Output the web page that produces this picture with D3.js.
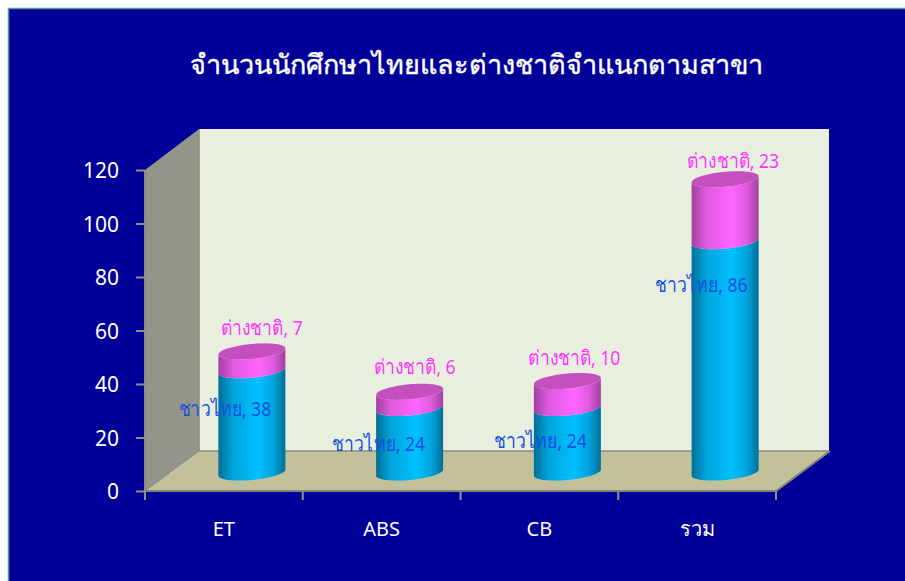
<!DOCTYPE html>
<html lang="th">
<head>
<meta charset="utf-8">
<script src="https://cdn.jsdelivr.net/npm/d3@7"></script>
<style>
  html, body { margin: 0; padding: 0; background: #fff; }
  svg { display: block; }
  text { font-family: "Noto Sans", "Open Sans", "Liberation Sans", sans-serif; }
</style>
</head>
<body>
<svg id="chart" width="905" height="581"></svg>
<script>
// Students by programme, Thai and international
const titleText = "จำนวนนักศึกษาไทยและต่างชาติจำแนกตามสาขา";
const categories = ["ET", "ABS", "CB", "รวม"];
const thaiName = "ชาวไทย";
const foreignName = "ต่างชาติ";
const thaiValues = [38, 24, 24, 86];
const foreignValues = [7, 6, 10, 23];
const yTicks = [0, 20, 40, 60, 80, 100, 120];

// Label nudges relative to the middle of each stacked segment
const thaiLabelShift = [[-27, -12], [-31, 4], [-27, 1], [-24, -72]];
const foreignLabelShift = [[10, -33], [5, -33], [7, -36], [8, -49]];

const svg = d3.select("#chart");
const defs = svg.append("defs");

// Plot frame: front edge of the floor plus the oblique depth offset
const frame = { left: 145, right: 776, bottom: 491, top: 170, depthX: 54, depthY: 40 };

const y = d3.scaleLinear().domain([0, 120]).range([frame.bottom, frame.top]);
const x = d3.scaleBand().domain(categories).range([frame.left, frame.right]);
// Cylinders stand halfway into the depth of the floor
const yBar = d3.scaleLinear().domain([0, 120]).range([472.5, 149.7]);

const cylWidth = 67, cylRy = 7.5, cylTilt = 0.09;

// Page ground
svg.append("rect").attr("x", 8.5).attr("y", 8.5).attr("width", 900).attr("height", 580)
  .attr("fill", "#000099").attr("stroke", "#4f9ea8").attr("stroke-width", 1.5);

svg.append("text").attr("x", 476).attr("y", 74).attr("text-anchor", "middle")
  .attr("fill", "#fff").attr("stroke", "#fff").attr("stroke-width", 0.4)
  .attr("font-size", 27).text(titleText);

// Walls and floor
const poly = pts => d3.line()(pts) + "Z";
const f = frame, backLeft = f.left + f.depthX, backRight = f.right + f.depthX - 1;
const backTop = f.top - f.depthY - 1, backBottom = f.bottom - f.depthY;

svg.append("path")
  .attr("d", poly([[backLeft, backTop], [backRight, backTop], [backRight, backBottom], [backLeft, backBottom]]))
  .attr("fill", "#e9efdf");
svg.append("path")
  .attr("d", poly([[f.left, f.top], [backLeft, backTop], [backLeft, backBottom], [f.left, f.bottom]]))
  .attr("fill", "#93958a");
svg.append("path")
  .attr("d", poly([[f.left, f.bottom], [backLeft, backBottom], [backRight, backBottom], [f.right, f.bottom]]))
  .attr("fill", "#c2c19b");

// Wall seams
const seam = "#8b8c7f";
svg.append("path").attr("fill", "none").attr("stroke", seam).attr("stroke-width", 1.5)
  .attr("d", d3.line()([[backLeft, backTop], [backLeft, backBottom], [backRight, backBottom]]));
svg.append("path").attr("fill", "none").attr("stroke", "#84857a").attr("stroke-width", 2)
  .attr("d", d3.line()([[f.left, f.bottom], [f.right, f.bottom], [backRight + 1, backBottom]]));
svg.append("path").attr("fill", "none").attr("stroke", seam).attr("stroke-width", 2)
  .attr("d", d3.line()([[f.left, f.top], [f.left, f.bottom]]));

// Axes
const yAxis = svg.append("g").attr("transform", `translate(${f.left},0)`)
  .call(d3.axisLeft(y).tickValues(yTicks).tickSize(9).tickPadding(17));
const xAxis = svg.append("g").attr("transform", `translate(0,${f.bottom})`)
  .call(d3.axisBottom(x).tickSize(0).tickPadding(31));
[yAxis, xAxis].forEach(a => {
  a.select(".domain").remove();
  a.selectAll("text").attr("fill", "#fff").attr("font-size", 21).attr("font-family", null);
});
yAxis.selectAll("line").attr("stroke", "#8f9085").attr("stroke-width", 2);
yAxis.selectAll("text").attr("dy", "0.37em");
xAxis.selectAll("text").attr("font-size", 20);

// Separators between categories on the front edge
const edges = categories.map(c => x(c)).concat(f.right);
svg.append("g").selectAll("line").data(edges).join("line")
  .attr("x1", d => d).attr("x2", d => d)
  .attr("y1", f.bottom).attr("y2", f.bottom + 9)
  .attr("stroke", "#8f9085").attr("stroke-width", 2);

// Horizontal shading of a cylinder wall
function sideGradient(id, dark, mid, bright) {
  const g = defs.append("linearGradient").attr("id", id);
  [[0, dark], [0.22, mid], [0.6, bright], [0.82, mid], [1, dark]].forEach(([o, c]) =>
    g.append("stop").attr("offset", o).attr("stop-color", c));
}
sideGradient("thaiSide", "#006f96", "#00a4dc", "#00c0ff");
sideGradient("foreignSide", "#a040a0", "#e05ae0", "#ff66ff");

// Outline helpers: a tilted ellipse sampled over an angle range
const halfTurn = d3.range(0, 1.0001, 1 / 40).map(t => t * Math.PI);
const rimPoint = (cx, cy, t) => {
  const a = cylWidth / 2;
  return [cx + a * Math.cos(t), cy + cylRy * Math.sin(t) - cylTilt * a * Math.cos(t)];
};
function sidePath(cx, yLow, yHigh) {
  const lower = halfTurn.map(t => rimPoint(cx, yLow, t));
  const upper = halfTurn.slice().reverse().map(t => rimPoint(cx, yHigh, t));
  return poly(lower.concat(upper));
}
function capPath(cx, cy) {
  const all = d3.range(0, 2.0001, 1 / 40).map(t => rimPoint(cx, cy, t * Math.PI));
  return poly(all);
}

// Nudged so the cylinders sit where the band centres fall on the floor
const cylCenter = c => x(c) + x.bandwidth() / 2 + 28;

const bars = svg.append("g").selectAll("g").data(categories).join("g");
bars.append("path")
  .attr("d", (c, i) => sidePath(cylCenter(c), yBar(0), yBar(thaiValues[i])))
  .attr("fill", "url(#thaiSide)");
bars.append("path")
  .attr("d", (c, i) => sidePath(cylCenter(c), yBar(thaiValues[i]), yBar(thaiValues[i] + foreignValues[i])))
  .attr("fill", "url(#foreignSide)");
bars.append("path")
  .attr("d", (c, i) => capPath(cylCenter(c), yBar(thaiValues[i] + foreignValues[i])))
  .attr("fill", "#c44fbf");

// Value labels, condensed horizontally around their centre
const labels = svg.append("g").attr("text-anchor", "middle").attr("font-size", 20.5);
labels.selectAll("text.thai").data(categories).join("text").attr("class", "thai")
  .attr("transform", (c, i) => {
    const lx = cylCenter(c) + thaiLabelShift[i][0];
    const ly = (yBar(0) + yBar(thaiValues[i])) / 2 + thaiLabelShift[i][1] + 7;
    return `translate(${lx},${ly}) scale(0.855,1)`;
  })
  .attr("fill", "#1450e0")
  .text((c, i) => `${thaiName}, ${thaiValues[i]}`);
labels.selectAll("text.foreign").data(categories).join("text").attr("class", "foreign")
  .attr("transform", (c, i) => {
    const lx = cylCenter(c) + foreignLabelShift[i][0];
    const ly = (yBar(thaiValues[i]) + yBar(thaiValues[i] + foreignValues[i])) / 2 + foreignLabelShift[i][1] + 7;
    return `translate(${lx},${ly}) scale(0.855,1)`;
  })
  .attr("fill", "#ff33ff")
  .text((c, i) => `${foreignName}, ${foreignValues[i]}`);
</script>
</body>
</html>
